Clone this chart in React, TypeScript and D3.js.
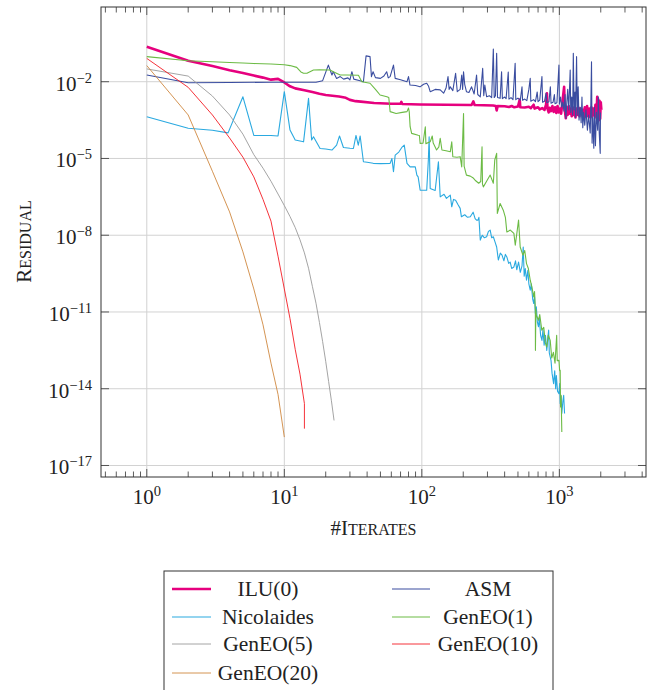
import React from "react";
import * as d3 from "d3";

type Pt = [number, number]; // [iterations, log10(residual)]

const seriesNames = ["ILU(0)", "ASM", "Nicolaides", "GenEO(1)", "GenEO(5)", "GenEO(10)", "GenEO(20)"];

const ilu0: Pt[] = [
  [1, -0.63], [2, -1.18], [3, -1.39], [4, -1.55], [5, -1.66], [6, -1.76], [7, -1.84], [8, -1.92], [9, -1.89], [10, -2.03],
  [11, -2.18], [12, -2.26], [14, -2.33], [16, -2.40], [18, -2.47], [20, -2.52], [25, -2.58], [28, -2.63], [30, -2.71],
  [33, -2.76], [36, -2.78], [45, -2.83], [60, -2.86], [70, -2.86], [71, -2.79], [72, -2.87], [97, -2.89], [150, -2.90],
  [230, -2.91], [237, -2.77], [242, -2.91], [330, -2.93], [345, -2.95], [350, -3.12], [356, -2.95], [400, -2.96],
  [430, -2.99], [450, -2.95], [470, -3.00], [500, -2.97], [515, -2.70], [520, -3.00], [560, -3.01], [600, -2.98],
  [620, -3.03], [650, -2.90], [660, -3.05], [700, -3.00], [720, -3.08], [750, -3.03], [780, -3.10], [800, -2.90],
  [812, -2.45], [820, -3.05], [836, -3.20], [850, -3.02], [870, -3.15], [890, -2.95], [910, -3.18], [930, -3.00],
  [950, -3.22], [970, -2.95], [990, -3.20], [1010, -3.05], [1030, -3.25], [1050, -2.85], [1083, -2.20], [1095, -3.10],
  [1114, -3.43], [1130, -3.00], [1150, -3.30], [1170, -2.95], [1190, -3.25], [1210, -3.05], [1230, -3.35], [1250, -3.00],
  [1270, -3.30], [1290, -3.10], [1310, -3.40], [1330, -3.05], [1350, -3.30], [1370, -3.00], [1400, -3.35], [1420, -3.05],
  [1450, -3.25], [1480, -3.10], [1502, -3.43], [1530, -3.00], [1560, -3.30], [1590, -2.95], [1620, -3.35], [1650, -3.05],
  [1680, -3.40], [1710, -3.00], [1740, -3.35], [1770, -3.05], [1800, -3.30], [1830, -2.90], [1860, -3.40], [1885, -2.59],
  [1900, -3.30], [1920, -2.70], [1938, -3.50], [1960, -2.75], [1980, -3.45], [2000, -2.80], [2020, -3.10],
];

const asm: Pt[] = [
  [1, -1.74], [2, -2.04], [4, -2.03], [8, -2.02], [12, -2.02], [17, -2.02], [19, -1.96], [20.9, -1.35], [22.2, -1.74],
  [22.7, -1.61], [24, -1.87], [25.5, -1.80], [27, -1.90], [29, -1.85], [30, -1.93], [31, -1.61], [32, -1.90], [35, -1.95],
  [37.6, -2.00], [39.3, -0.99], [42, -1.02], [43, -1.80], [44.2, -1.61], [46, -1.84], [50, -1.87], [53, -1.78],
  [55.5, -1.61], [57, -1.85], [58.8, -1.80], [62.2, -1.35], [64, -1.87], [70, -1.92], [78, -2.00], [80, -1.80],
  [82, -2.13], [90, -2.15], [97, -2.20], [103, -2.10], [108.5, -2.06], [112, -2.18], [115, -2.39], [125, -2.30],
  [136, -2.32], [144, -2.45], [150, -2.25], [155, -1.80], [158, -2.30], [161, -2.20], [168, -2.35], [176, -1.67],
  [181, -2.39], [190, -2.30], [195, -1.74], [198, -2.30], [201, -1.61], [205, -2.10], [211, -2.39], [220, -2.42],
  [230, -2.20], [240, -2.48], [250, -1.74], [255, -2.50], [266, -2.59], [277, -1.48], [282, -2.55], [287, -2.13],
  [296, -2.59], [310, -2.55], [322, -2.62], [331, -0.72], [336, -2.62], [343, -2.55], [350, -0.89], [355, -2.62],
  [371, -2.65], [380, -1.61], [385, -2.66], [400, -2.60], [410, -2.66], [425, -1.62], [430, -2.68], [445, -2.62],
  [460, -2.70], [477, -1.28], [482, -2.70], [500, -2.64], [520, -2.72], [535, -2.20], [540, -2.72], [560, -2.68],
  [580, -2.74], [600, -2.30], [614, -1.87], [620, -2.76], [650, -2.70], [670, -2.78], [690, -2.40], [700, -2.78],
  [720, -2.72], [747, -1.80], [755, -2.80], [780, -2.76], [800, -2.45], [810, -2.82], [840, -2.78], [860, -2.20],
  [870, -2.84], [900, -2.80], [920, -2.50], [930, -2.86], [960, -2.82], [993, -1.35], [1000, -2.88], [1020, -2.60],
  [1040, -3.00], [1060, -2.80], [1080, -3.15], [1100, -2.50], [1114, -3.43], [1130, -2.90], [1150, -2.30], [1170, -3.10],
  [1199, -1.54], [1210, -3.20], [1230, -2.60], [1250, -3.30], [1263, -0.89], [1280, -3.10], [1300, -2.40], [1310, -3.40],
  [1334, -1.02], [1350, -3.30], [1370, -2.20], [1390, -3.50], [1418, -3.00], [1440, -3.60], [1460, -2.60], [1480, -3.80],
  [1500, -3.20], [1530, -3.70], [1560, -3.10], [1600, -3.90], [1630, -3.30], [1676, -4.00], [1690, -3.20], [1713, -1.22],
  [1730, -4.40], [1750, -3.40], [1780, -4.60], [1800, -3.00], [1830, -4.50], [1860, -3.20], [1900, -3.90], [1920, -2.60],
  [1950, -4.00], [1982, -4.80], [1990, -3.20],
];

const nicolaides: Pt[] = [
  [1, -3.37], [2, -3.82], [3, -3.90], [3.9, -4.00], [5, -2.59], [6, -4.10], [7, -4.10], [8, -4.10], [9, -4.12],
  [10, -2.39], [11, -3.89], [12, -4.28], [13, -4.32], [13.8, -4.35], [15, -2.65], [15.8, -4.28], [16.3, -4.15],
  [16.8, -4.28], [18.2, -4.61], [20, -4.63], [22.2, -4.67], [24, -4.48], [25.2, -4.12], [26.9, -4.57], [30, -4.60],
  [31.8, -4.61], [33.2, -4.10], [34.5, -4.48], [35.6, -4.12], [37.6, -5.13], [40, -5.15], [44.3, -5.19], [50, -5.20],
  [58.8, -5.19], [60.6, -5.00], [62.2, -5.52], [64, -4.87], [68, -4.75], [71.5, -4.57], [74.5, -4.48], [78, -5.19],
  [82.2, -5.33], [89.6, -5.33], [92, -5.65], [94, -5.72], [97.2, -6.24], [108.5, -6.24], [111.5, -5.06], [113, -4.15],
  [115, -6.17], [125, -6.25], [132, -5.13], [136, -6.50], [145, -6.40], [151, -6.56], [161, -6.43], [165, -6.89],
  [170, -6.60], [176, -6.63], [183, -6.80], [190, -6.95], [194, -7.28], [205, -7.20], [215, -7.30], [225, -7.28],
  [236, -7.10], [244, -7.35], [250, -7.41], [256, -7.41], [260, -7.30], [266, -8.19], [275, -8.00], [285, -8.10],
  [296, -8.06], [305, -7.85], [314, -7.80], [322, -8.10], [331, -8.06], [340, -8.25], [350, -8.46], [360, -8.97],
  [372, -8.70], [383, -8.78], [395, -9.00], [405, -8.75], [415, -8.85], [428, -9.10], [439, -9.05], [450, -9.30],
  [467, -9.24], [480, -9.00], [490, -9.35], [505, -9.05], [520, -9.45], [535, -9.20], [546, -8.46], [555, -9.60],
  [565, -9.30], [577, -9.76], [590, -9.37], [600, -9.90], [614, -10.15], [625, -9.90], [640, -10.50], [651, -10.67],
  [660, -10.40], [669, -11.06], [680, -10.80], [692, -11.40], [705, -11.58], [715, -11.20], [730, -11.90], [747, -12.11],
  [760, -11.70], [775, -12.30], [792, -11.91], [810, -12.50], [825, -12.00], [836, -11.71], [845, -12.60], [858, -12.76],
  [870, -12.90], [885, -13.40], [908, -13.80], [925, -13.30], [940, -14.00], [951, -13.48], [970, -14.10], [993, -14.19],
  [1005, -13.80], [1014, -14.58], [1030, -14.30], [1042, -14.97], [1060, -14.50], [1075, -14.26], [1091, -14.97],
];

const geneo1: Pt[] = [
  [1, -1.02], [2, -1.18], [3, -1.22], [4, -1.25], [5, -1.27], [6, -1.29], [8, -1.31], [10, -1.34], [11, -1.37],
  [12.3, -1.44], [13.2, -1.62], [13.8, -1.67], [14.6, -1.67], [16.3, -1.54], [18, -1.53], [21.5, -1.54], [22.7, -1.61],
  [25.5, -1.74], [28.4, -1.74], [34.6, -1.75], [36.6, -2.00], [42, -2.06], [46, -2.30], [49.7, -2.52], [55.7, -2.59],
  [57.5, -2.62], [58.8, -3.17], [65, -3.24], [72, -3.20], [78, -3.17], [80, -3.03], [81, -3.18], [82.2, -3.76],
  [84.3, -4.02], [94, -4.09], [96, -4.10], [97.2, -4.41], [102, -4.40], [106, -3.76], [107, -4.42], [115, -4.35],
  [119, -4.12], [121, -4.40], [128, -4.67], [133, -4.55], [136, -4.21], [140, -4.67], [150, -4.70], [161, -4.74],
  [165, -4.35], [168, -4.93], [180, -4.95], [190, -4.93], [195, -5.33], [201, -3.24], [203, -5.30], [211, -5.65],
  [225, -5.69], [235, -5.75], [244, -5.85], [259, -5.97], [268, -5.90], [274, -4.54], [276, -6.00], [280, -6.11],
  [295, -5.90], [314, -5.65], [331, -5.97], [339, -5.06], [350, -4.80], [354, -7.15], [371, -6.76], [391, -7.02],
  [405, -7.30], [415, -7.87], [440, -7.80], [467, -7.93], [478, -8.39], [505, -7.41], [519, -8.46], [543, -8.78],
  [560, -8.60], [577, -9.11], [595, -9.30], [614, -9.76], [630, -10.00], [651, -10.41], [660, -10.20], [669, -10.93],
  [670, -12.50], [675, -10.90], [680, -11.13], [705, -11.32], [720, -11.10], [745, -11.71], [770, -11.60], [790, -12.20],
  [810, -12.37], [830, -11.90], [858, -12.11], [880, -12.80], [905, -12.58], [930, -13.00], [956, -11.91], [965, -12.90],
  [993, -12.89], [1005, -13.30], [1014, -13.28], [1020, -14.71], [1030, -14.26], [1042, -15.69],
];

const geneo5: Pt[] = [
  [1, -1.50], [2, -1.78], [3, -2.56], [4, -3.30], [5, -4.05], [6, -4.85], [7, -5.38], [8, -5.89], [9, -6.39], [10, -6.84],
  [11, -7.27], [12, -7.70], [13, -8.18], [14, -8.69], [15, -9.29], [16, -10.00], [17, -10.66], [18, -11.41], [19, -12.16],
  [20, -12.93], [21, -13.72], [22, -14.47], [23, -15.24],
];

const geneo10: Pt[] = [
  [1, -1.09], [2, -2.22], [3, -3.30], [4, -4.20], [5, -4.95], [6, -5.72], [7, -6.60], [8, -7.45], [9, -8.82], [10, -10.10],
  [11, -11.26], [12, -12.46], [13, -13.43], [14, -14.58], [14, -15.56],
];

const geneo20: Pt[] = [
  [1, -1.37], [2, -3.30], [3, -5.50], [4, -7.09], [5, -8.65], [6, -10.10], [7, -11.50], [8, -13.00], [9, -14.22], [10, -15.89],
];

const seriesData: Pt[][] = [ilu0, asm, nicolaides, geneo1, geneo5, geneo10, geneo20];
const seriesColors = ["#e6007e", "#3a4da0", "#2aa9e0", "#6cbb45", "#9a9a9a", "#f41c24", "#cf8840"];
const seriesWidths = [2.6, 1.1, 1.1, 1.1, 0.9, 0.9, 0.9];

const xTickExps = [0, 1, 2, 3];
const yTickExps = [-2, -5, -8, -11, -14, -17];

const FONT = '"Liberation Serif", "Times New Roman", Times, serif';

export default function App() {
  const L = 101, R = 646, T = 7, B = 477;
  const x = d3.scaleLog().domain([Math.pow(10, -0.333), Math.pow(10, 3.63)]).range([L, R]);
  const y = d3.scaleLog().domain([Math.pow(10, -17.45), Math.pow(10, 0.92)]).range([B, T]);

  const line = d3
    .line<Pt>()
    .x((d) => x(d[0]))
    .y((d) => y(Math.pow(10, d[1])));

  const [xd0, xd1] = x.domain();
  const minor: number[] = [];
  for (let e = -1; e <= 3; e++) {
    for (let k = 2; k <= 9; k++) {
      const v = k * Math.pow(10, e);
      if (v > xd0 && v < xd1) minor.push(v);
    }
  }

  const legendRows = [589, 617, 644, 673];
  const legendCols = [
    { l0: 172, l1: 211, tc: 268 },
    { l0: 392, l1: 430, tc: 488 },
  ];

  const txt = { fontFamily: FONT };

  return (
    <svg
      width={652}
      height={690}
      style={{ position: "absolute", left: 0, top: 0, background: "#fff", fontFamily: FONT }}
    >
      <rect x={0} y={0} width={652} height={690} fill="#fff" />
      <defs>
        <clipPath id="plotclip">
          <rect x={L} y={T} width={R - L} height={B - T} />
        </clipPath>
      </defs>
      {/* grid */}
      <g stroke="#d2d2d2" strokeWidth={1}>
        {xTickExps.map((e) => (
          <line key={"gx" + e} x1={x(Math.pow(10, e))} x2={x(Math.pow(10, e))} y1={T} y2={B} />
        ))}
        {yTickExps.map((e) => (
          <line key={"gy" + e} x1={L} x2={R} y1={y(Math.pow(10, e))} y2={y(Math.pow(10, e))} />
        ))}
      </g>
      {/* ticks */}
      <g stroke="#333" strokeWidth={0.8}>
        {minor.map((v, i) => (
          <g key={"mn" + i}>
            <line x1={x(v)} x2={x(v)} y1={B} y2={B - 5.5} />
            <line x1={x(v)} x2={x(v)} y1={T} y2={T + 5.5} />
          </g>
        ))}
        {xTickExps.map((e) => (
          <g key={"mx" + e}>
            <line x1={x(Math.pow(10, e))} x2={x(Math.pow(10, e))} y1={B} y2={B - 8} />
            <line x1={x(Math.pow(10, e))} x2={x(Math.pow(10, e))} y1={T} y2={T + 8} />
          </g>
        ))}
        {yTickExps.map((e) => (
          <g key={"my" + e}>
            <line x1={L} x2={L + 8} y1={y(Math.pow(10, e))} y2={y(Math.pow(10, e))} />
            <line x1={R} x2={R - 8} y1={y(Math.pow(10, e))} y2={y(Math.pow(10, e))} />
          </g>
        ))}
      </g>
      {/* series */}
      <g clipPath="url(#plotclip)" fill="none" strokeLinejoin="round">
        {seriesData.map((d, i) => (
          <path key={seriesNames[i]} d={line(d) || ""} stroke={seriesColors[i]} strokeWidth={seriesWidths[i]} />
        ))}
      </g>
      {/* frame */}
      <rect x={L} y={T} width={R - L} height={B - T} fill="none" stroke="#333" strokeWidth={1} />
      {/* tick labels */}
      <g fill="#222" fontSize={21} style={txt}>
        {xTickExps.map((e) => (
          <text key={"tx" + e} x={x(Math.pow(10, e))} y={504} textAnchor="middle" style={txt}>
            10<tspan fontSize={14.5} dy={-8}>{String(e)}</tspan>
          </text>
        ))}
        {yTickExps.map((e) => (
          <text key={"ty" + e} x={92} y={y(Math.pow(10, e)) + 9} textAnchor="end" style={txt}>
            10<tspan fontSize={14.5} dy={-8}>{"\u2212" + String(-e)}</tspan>
          </text>
        ))}
      </g>
      {/* axis labels */}
      <text x={(L + R) / 2} y={535} textAnchor="middle" fill="#222" fontSize={21} style={txt}>
        #I<tspan fontSize={16}>TERATES</tspan>
      </text>
      <text transform={`translate(31, 241.5) rotate(-90)`} textAnchor="middle" fill="#222" fontSize={21} style={txt}>
        R<tspan fontSize={16}>ESIDUAL</tspan>
      </text>
      {/* legend */}
      <rect x={164} y={571} width={389} height={130} fill="#fff" stroke="#333" strokeWidth={1} />
      {seriesNames.map((name, i) => {
        const row = Math.floor(i / 2);
        const col = legendCols[i % 2];
        const ly = legendRows[row];
        return (
          <g key={"lg" + name}>
            <line x1={col.l0} x2={col.l1} y1={ly} y2={ly} stroke={seriesColors[i]} strokeWidth={seriesWidths[i]} />
            <text x={col.tc} y={ly + 6.5} textAnchor="middle" fontSize={21.5} fill="#222" style={txt}>
              {name}
            </text>
          </g>
        );
      })}
    </svg>
  );
}
